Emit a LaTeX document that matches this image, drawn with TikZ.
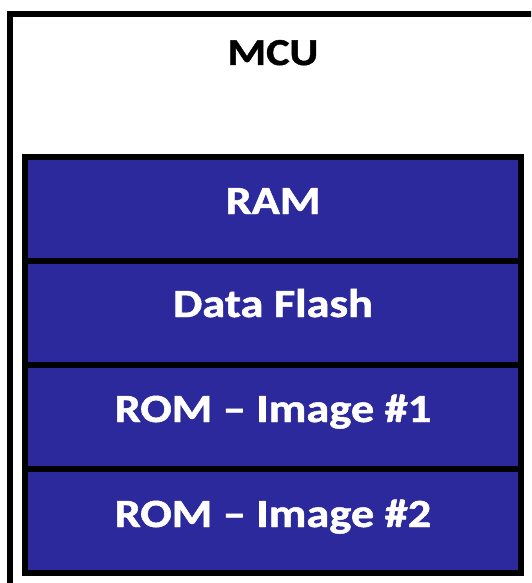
\documentclass[tikz,border=0pt]{standalone}
\usepackage{fontspec}
\setmainfont{Carlito}
% a slightly heavier bold for the labels
\newfontfamily\heavyfont{Carlito}[UprightFont=*-Bold,FakeBold=1.2]
\definecolor{memblue}{RGB}{43,41,155}
% labels are set a little wider than the font's natural width
\newcommand{\widelbl}[1]{\scalebox{1.16}[1]{#1}}
\begin{document}
\begin{tikzpicture}[x=1pt,y=-1pt,
  frame/.style={line width=6pt,draw=black},
  memrow/.style={frame,fill=memblue},
  lbl/.style={font=\fontsize{40}{40}\heavyfont,anchor=base,inner sep=0pt},
  rowlbl/.style={lbl,text=white}]
  \useasboundingbox (0,0) rectangle (531,583);
  \clip (0,0) rectangle (531,583);
  % outer MCU enclosure, running past the right and bottom edges
  \draw[frame] (10,14) rectangle (545,600);
  \node[lbl,font=\fontsize{38}{38}\heavyfont] (mcu) at (273,65) {\widelbl{MCU}};
  % memory regions stacked inside the MCU
  \draw[memrow] (25,157) rectangle (521,261);
  \draw[memrow] (25,261) rectangle (521,365);
  \draw[memrow] (25,365) rectangle (521,469);
  \draw[memrow] (25,469) rectangle (521,573);
  \node[rowlbl] (ram) at (273,214) {\widelbl{RAM}};
  \node[rowlbl] (flash) at (273,317) {\widelbl{Data Flash}};
  \node[rowlbl] (img1) at (273,422) {\widelbl{ROM – Image \#1}};
  \node[rowlbl] (img2) at (273,527) {\widelbl{ROM – Image \#2}};
\end{tikzpicture}
\end{document}
